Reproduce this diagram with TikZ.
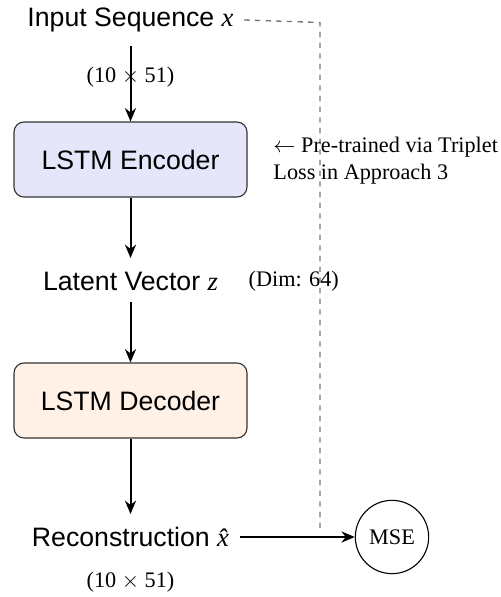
\documentclass[tikz,border=0pt]{standalone}
\usepackage{fontspec}
\setmainfont{Liberation Serif}
\setsansfont{Liberation Sans}
\usetikzlibrary{arrows.meta}
\definecolor{encfill}{HTML}{E6E6FA}
\definecolor{decfill}{HTML}{FFF1E6}
\newcommand{\varit}[1]{{\rmfamily\itshape #1}}
\begin{document}
\begin{tikzpicture}[x=0.45pt,y=-0.45pt,
  lbl/.style={font=\sffamily\large, inner sep=1pt},
  small/.style={font=\normalsize, inner sep=1pt},
  blk/.style={draw=black!80, rounded corners=4.5pt, minimum width=104.85pt, minimum height=33.75pt, font=\sffamily\large, line width=0.5pt},
  flow/.style={-{Stealth[length=6pt,width=5pt]}, line width=0.9pt},
  dashline/.style={black!55, dash pattern=on 2.4pt off 2.4pt, line width=0.6pt}]
\useasboundingbox (0,0) rectangle (500,597);
\node[lbl] (in) at (130.5,20) {Input Sequence \varit{x}};
\node[blk, fill=encfill] (enc) at (130.5,159.5) {LSTM Encoder};
\node[lbl] (lat) at (130.5,281) {Latent Vector \varit{z}};
\node[small, anchor=west] (dim) at (246,281) {(Dim: 64)};
\node[blk, fill=decfill] (dec) at (130.5,400.5) {LSTM Decoder};
\node[lbl] (rec) at (130.5,537) {Reconstruction \varit{\^{x}}};
\node[draw, circle, minimum size=33pt, inner sep=0pt, small, line width=0.5pt] (mse) at (392,537) {MSE};
\node[small] (dimin) at (130.5,77) {(10 $\times$ 51)};
\node[small] (dimout) at (130.5,582) {(10 $\times$ 51)};
\node[small, anchor=north west, align=left, inner sep=0pt] (note) at (273,137) {$\leftarrow$ Pre-trained via Triplet\\Loss in Approach 3};
\coordinate (c1) at (320,22.5);
\coordinate (c2) at (320,529);
\draw[flow] (130.5,46) -- (enc.north);
\draw[flow] (enc.south) -- (130.5,258);
\draw[flow] (130.5,302) -- (dec.north);
\draw[flow] (dec.south) -- (130.5,514);
\draw[flow] (240,537) -- (mse.west);
\draw[dashline] (in.east) ++(8,0) -- (c1) -- (c2);
\end{tikzpicture}
\end{document}
